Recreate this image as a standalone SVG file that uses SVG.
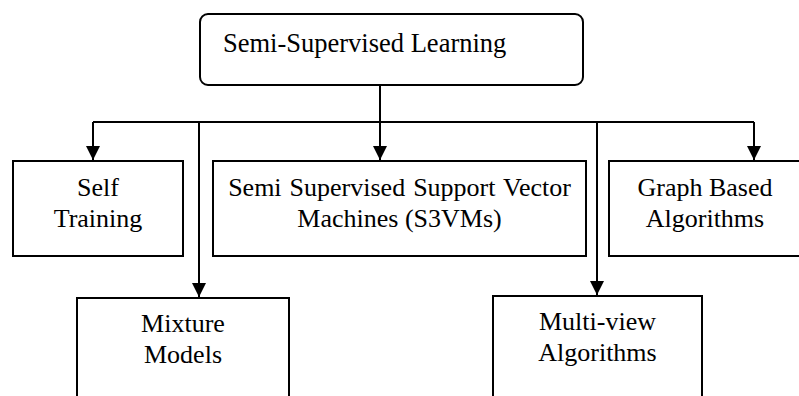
<svg xmlns="http://www.w3.org/2000/svg" width="799" height="396" viewBox="0 0 799 396">
  <style>
    .box { fill: #ffffff; stroke: #000000; stroke-width: 2; }
    .label { font-family: "Liberation Serif", "Times New Roman", serif; font-size: 26px; fill: #000000; text-anchor: middle; }
    .wire { fill: none; stroke: #000000; stroke-width: 2; }
  </style>
  <defs>
    <marker id="arrow" markerUnits="userSpaceOnUse" markerWidth="15" markerHeight="14" refX="14" refY="7" orient="auto">
      <path d="M0,0 L14,7 L0,14 Z" fill="#000000"/>
    </marker>
  </defs>
  <rect width="799" height="396" fill="#ffffff"/>

  <!-- connectors -->
  <g id="connectors">
    <path class="wire" d="M380,86 V122"/>
    <path class="wire" d="M93,122 H754"/>
    <path class="wire" d="M93,122 V160" marker-end="url(#arrow)"/>
    <path class="wire" d="M380,122 V160" marker-end="url(#arrow)"/>
    <path class="wire" d="M754,122 V160" marker-end="url(#arrow)"/>
    <path class="wire" d="M199,122 V297" marker-end="url(#arrow)"/>
    <path class="wire" d="M597,122 V295" marker-end="url(#arrow)"/>
  </g>

  <!-- root -->
  <g id="node-ssl">
    <rect class="box" x="200" y="14" width="383" height="71" rx="8" ry="8"/>
    <text x="223" y="52" style="font-family:'Liberation Serif','Times New Roman',serif;font-size:26.5px">Semi-Supervised Learning</text>
  </g>

  <g id="node-self-training">
    <rect class="box" x="13" y="161" width="170" height="95"/>
    <text class="label" x="98" y="196">Self</text>
    <text class="label" x="98" y="227">Training</text>
  </g>

  <g id="node-s3vm">
    <rect class="box" x="213" y="161" width="373" height="95"/>
    <text class="label" x="399.5" y="196" word-spacing="1.5">Semi Supervised Support Vector</text>
    <text class="label" x="399.5" y="227">Machines (S3VMs)</text>
  </g>

  <g id="node-graph">
    <rect class="box" x="609" y="161" width="200" height="95"/>
    <text class="label" x="705" y="196">Graph Based</text>
    <text class="label" x="705" y="227">Algorithms</text>
  </g>

  <g id="node-mixture">
    <rect class="box" x="77" y="298" width="212" height="110"/>
    <text class="label" x="183" y="332">Mixture</text>
    <text class="label" x="183" y="363">Models</text>
  </g>

  <g id="node-multiview">
    <rect class="box" x="493" y="296" width="209" height="112"/>
    <text class="label" x="597.5" y="330">Multi-view</text>
    <text class="label" x="597.5" y="361">Algorithms</text>
  </g>
</svg>
